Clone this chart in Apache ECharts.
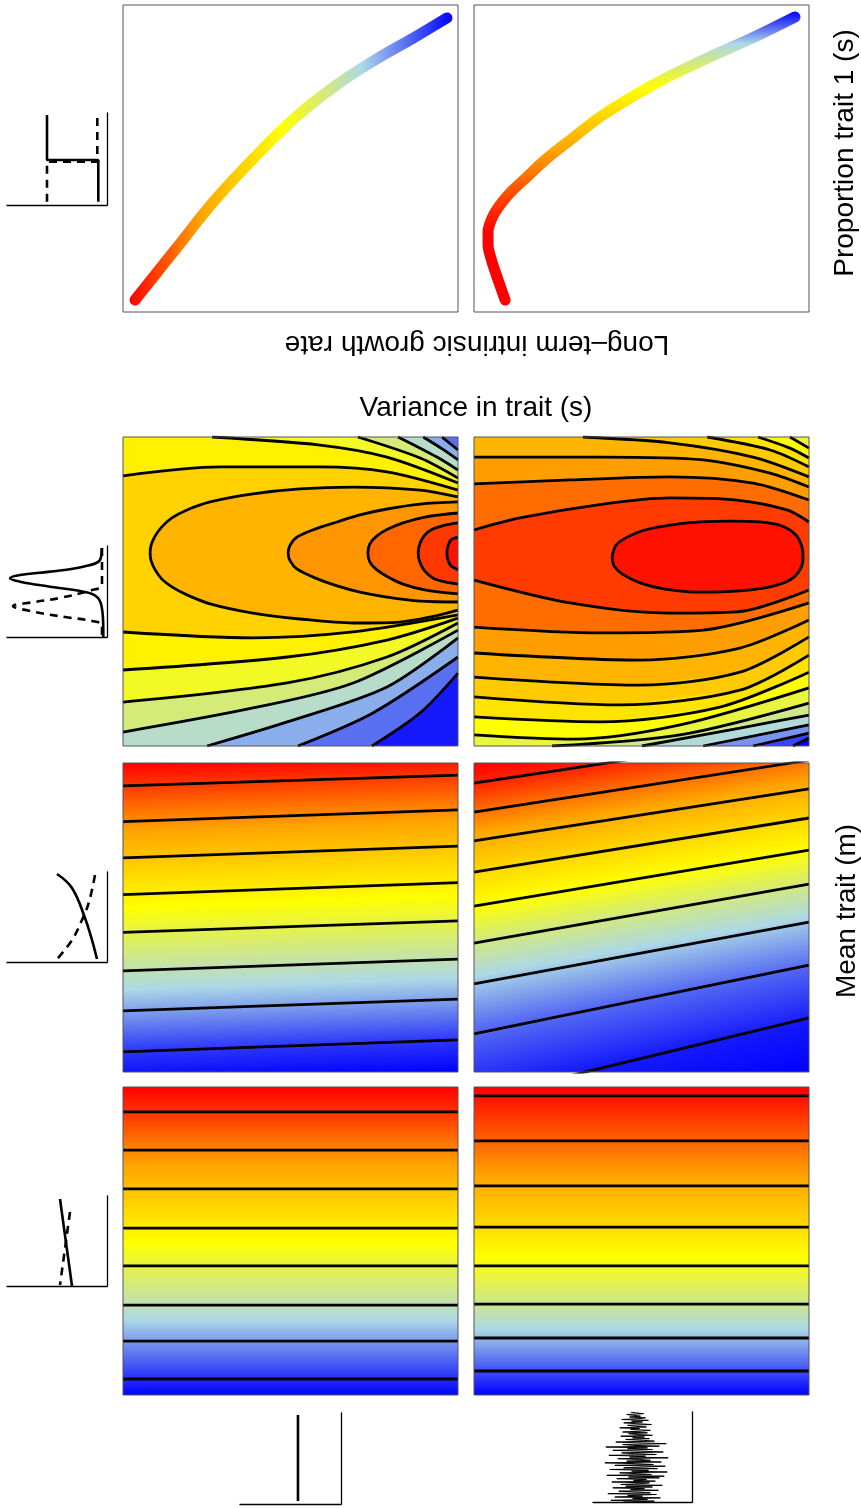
<!DOCTYPE html>
<html>
<head>
<meta charset="utf-8">
<title>Long-term growth rate panels</title>
<script src="https://cdn.jsdelivr.net/npm/echarts@6/dist/echarts.min.js"></script>
<style>
  html, body { margin: 0; padding: 0; background: #fff; }
  #main { width: 861px; height: 1508px; }
</style>
</head>
<body>
<div id="main"></div>
<script>
// colour ramp used by every panel, low value -> high value
var rampColors = ['#0000FF', '#ADD8E6', '#FFFF00', '#FFA500', '#FF0000'];

// ---- row 1: growth rate against proportion of trait 1 (panel units 0-100) ----
var growthA = [[3.6,3.9],[15.5,20.2],[27.5,36.5],[39.4,50.5],[51.3,63.2],[63.3,73.6],[75.2,82.1],[87.2,89.6],[96.7,95.8]];
var growthB = [[9.3,3.9],[7.2,10.4],[5.4,16.3],[4.2,21.8],[4.2,26.1],[5.4,30.6],[7.8,34.9],[11.3,39.4],[15.8,44.0],[21.2,49.5],[28.7,56.0],[37.6,63.5],[48.1,70.7],[58.5,76.9],[70.4,83.1],[82.4,88.9],[95.8,96.1]];

// ---- row 2 left: contours of growth rate over mean / variance ----
var ovalsA = [ // outer -> inner, closed against the right edge
  [[100,80.6],[88.7,82.8],[68.7,83.8],[52.8,83.2],[38.8,81.6],[26.0,79.0],[19.1,76.4],[14.6,73.8],[11.6,70.9],[9.6,68.0],[8.4,65.0],[8.1,62.5],[8.4,59.9],[9.6,57.0],[11.6,54.0],[14.6,51.5],[19.1,48.9],[26.0,46.0],[38.8,43.0],[52.8,41.1],[68.7,39.8],[82.7,40.1],[91.6,41.7],[100,44.0]],
  [[100,79.0],[88.7,78.3],[78.8,76.7],[70.7,74.8],[63.9,72.5],[57.3,70.2],[51.9,67.6],[49.9,65.0],[49.3,62.5],[49.9,59.9],[51.9,57.3],[57.3,54.4],[63.9,51.8],[70.7,49.8],[78.8,48.2],[88.7,46.9],[100,46.6]],
  [[100,75.4],[90.1,74.1],[83.6,72.2],[79.1,70.2],[75.8,68.0],[73.7,65.4],[73.1,62.5],[73.7,59.5],[75.8,57.0],[79.1,54.7],[83.6,52.4],[90.1,50.5],[100,49.2]],
  [[100,72.2],[96.1,71.5],[92.5,70.2],[90.1,68.3],[88.7,65.7],[88.1,62.5],[88.7,59.2],[90.1,56.6],[92.5,54.4],[96.1,53.1],[100,52.4]],
  [[100,67.6],[97.9,66.7],[97.0,64.7],[96.7,62.5],[97.0,60.2],[97.9,58.3],[100,57.0]]
];
var upperA = [ // inner -> outer
  [[0,87.4],[29.0,90.3],[58.8,90.3],[78.8,88.7],[100,82.8]],
  [[26.6,100],[58.8,97.4],[78.8,93.5],[100,85.1]],
  [[70.1,100],[88.7,93.2],[100,86.7]],
  [[82.1,100],[93.7,93.5],[100,89.3]],
  [[89.6,100],[95.5,96.0],[100,92.6]],
  [[95.2,100],[100,95.8]]
];
var lowerA = [ // inner -> outer
  [[0,36.9],[38.8,35.0],[68.7,36.9],[100,42.4]],
  [[0,24.6],[49.0,28.8],[78.8,34.3],[100,41.4]],
  [[0,14.2],[49.0,20.4],[78.8,28.8],[100,39.8]],
  [[0,4.5],[38.8,12.3],[68.7,20.4],[100,37.5]],
  [[25.1,0],[49.0,7.8],[78.8,19.1],[100,35.0]],
  [[52.2,0],[74.6,10.7],[100,28.8]],
  [[74.3,0],[88.7,10.7],[100,23.6]]
];
// band colours, painted low -> high: base, >M, >F/L, >E/K, >D/J, >C/I, >B/H, >A/G, ovals
var bandValA = [0.03, 0.13, 0.20, 0.28, 0.37, 0.46, 0.54, 0.625, 0.705, 0.775, 0.845, 0.915, 0.975];

// ---- row 2 right ----
var ovalB = [[41.2,61.2],[42.4,65.0],[45.7,67.6],[51.0,69.9],[58.5,71.5],[67.5,72.5],[76.4,72.8],[85.4,72.5],[91.9,71.2],[96.1,68.3],[97.9,64.4],[98.2,60.8],[97.3,57.0],[94.3,53.7],[88.4,51.5],[79.4,50.2],[67.5,49.8],[57.0,50.8],[49.6,52.8],[44.2,55.7],[41.8,58.3],[41.2,61.2]];
var upperB = [
  [[0,69.9],[13.7,73.8],[38.5,78.3],[58.5,80.3],[78.5,79.6],[93.4,76.4],[100,72.5]],
  [[0,84.8],[28.7,86.1],[58.5,87.1],[83.3,85.1],[100,79.6]],
  [[0,93.5],[38.5,93.5],[68.4,92.6],[88.4,88.3],[100,83.8]],
  [[32.5,100],[58.5,98.1],[83.3,93.5],[100,87.1]],
  [[69.6,100],[88.4,95.8],[100,90.3]],
  [[84.8,100],[94.3,96.4],[100,93.2]],
  [[94.3,100],[100,96.4]]
];
var lowerB = [
  [[0,53.7],[28.7,46.3],[58.5,43.0],[78.5,43.4],[100,50.5]],
  [[0,38.5],[38.5,36.6],[68.4,37.5],[100,46.3]],
  [[0,30.1],[49.6,27.8],[79.4,31.7],[100,40.8]],
  [[0,22.3],[49.6,19.7],[79.4,23.9],[100,35.3]],
  [[0,15.9],[43.6,13.3],[79.4,18.1],[100,29.4]],
  [[0,9.4],[37.6,7.8],[73.4,12.6],[100,23.9]],
  [[0,3.6],[30.0,2.2],[61.5,6.8],[100,18.8]],
  [[23.3,0],[61.5,3.6],[100,13.9]],
  [[50.1,0],[79.4,5.8],[100,10.0]],
  [[68.4,0],[100,6.8]],
  [[83.3,0],[100,4.2]],
  [[95.2,0],[100,2.6]]
];
var bandValB = [0.0, 0.08, 0.17, 0.265, 0.35, 0.43, 0.50, 0.575, 0.645, 0.705, 0.76, 0.835, 0.91, 0.975];

// ---- row 3: straight contours, height at left edge / right edge, and level ----
// first and last entries are the panel edges (not drawn)
var r3aLeft  = [100, 92.6, 81.0, 69.3, 57.4, 45.2, 32.7, 19.8, 6.5, -3.9];
var r3aRight = [103.5, 96.1, 84.8, 73.1, 61.3, 48.9, 36.5, 23.6, 10.4, 0];
var r3aLevel = [1.0, 0.917, 0.787, 0.664, 0.541, 0.424, 0.307, 0.187, 0.062, 0.0];
var r3bLeft  = [100, 93.5, 84.1, 74.8, 64.7, 53.7, 41.7, 28.5, 12.3, -8.7, -26.2];
var r3bRight = [116.4, 109.9, 100.9, 91.6, 82.2, 71.8, 60.8, 48.5, 34.6, 17.5, 0];
var r3bLevel = [1.0, 0.95, 0.83, 0.72, 0.61, 0.50, 0.36, 0.23, 0.12, 0.03, 0.0];

// ---- row 4: flat contours ----
var r4aAt    = [100, 91.9, 79.5, 66.9, 54.2, 41.9, 29.2, 17.5, 5.2, 0];
var r4aLevel = [1.0, 0.922, 0.798, 0.674, 0.55, 0.426, 0.302, 0.178, 0.054, 0.0];
var r4bAt    = [100, 97.1, 82.5, 67.9, 54.5, 41.9, 29.5, 18.5, 7.8, 0];
var r4bLevel = [1.0, 0.977, 0.850, 0.724, 0.597, 0.470, 0.344, 0.217, 0.090, 0.0];

// ---- small environment sketches ----
var sk1Solid  = [[40,97.8],[40,48.9],[91.3,48.9],[91.3,3.6]];
var sk1Dash   = [[90.3,94.6],[90.3,47.1],[40,47.1],[40,0]];
var sk2Solid  = [[94.7,97.4],[93,84.6],[76.3,77.3],[43,71.8],[13,68.1],[3,64.5],[13,60.8],[43,55.3],[76.3,49.8],[89.7,44.3],[94.7,33.3],[96.3,7.7],[96.3,0]];
var sk2Dash   = [[95,97.8],[95,57.1],[85,51.6],[53,42.9],[28,38.5],[6,34.1],[28,27.5],[58,22],[85,17.6],[95,13.2],[95,0]];
var sk3Solid  = [[50,97.8],[65,82.2],[78,48.9],[85,24.4],[90,3.3]];
var sk3Dash   = [[51,4.4],[65,24.4],[75,46.7],[82,66.7],[88,96.7]];
var sk4Solid  = [[53,96.7],[65,0]];
var sk4Dash   = [[63,82.2],[53,1.1]];
var sk5Solid  = [[57.4,97.8],[57.4,3.3]];
var sk6Noise  = [30,62,18,55,40,68,22,50,35,64,15,58,44,26,66,38,52,20,60,33,70,28,48,57,19,63,41,54,24,67,
  36,72,14,59,45,27,75,39,56,17,65,31,50,73,22,61,43,12,69,34,58,47,25,76,37,53,16,64,42,29,71,48,20,60,35,55,13,67,40,30,74,45,23,62,51,
  33,57,40,52,28,60,45,36,55,30,49,58,38,47,27,54,42,35,59,44,31,50,39,56,29,46,53,37,48,41,34,51,43,38];

// ---------------------------------------------------------------
var rampRgb = rampColors.map(function (h) {
  return [parseInt(h.substr(1, 2), 16), parseInt(h.substr(3, 2), 16), parseInt(h.substr(5, 2), 16)];
});
function ramp(v) {
  v = Math.max(0, Math.min(1, v));
  var p = v * (rampRgb.length - 1);
  var i = Math.min(Math.floor(p), rampRgb.length - 2), f = p - i;
  var a = rampRgb[i], b = rampRgb[i + 1];
  return 'rgb(' + Math.round(a[0] + (b[0] - a[0]) * f) + ',' + Math.round(a[1] + (b[1] - a[1]) * f) + ',' + Math.round(a[2] + (b[2] - a[2]) * f) + ')';
}
// gradient stops from v0 to v1, keeping the ramp's knots inside the band
function bandStops(v0, v1) {
  var stops = [{ offset: 0, color: ramp(v0) }, { offset: 1, color: ramp(v1) }];
  for (var k = 1; k < rampColors.length - 1; k++) {
    var kv = k / (rampColors.length - 1);
    if ((kv - v0) * (kv - v1) < 0) stops.push({ offset: (kv - v0) / (v1 - v0), color: ramp(kv) });
  }
  stops.sort(function (a, b) { return a.offset - b.offset; });
  return stops;
}
// polygon between an upper and a lower contour; both end on the right edge
function between(upper, lower) {
  var up = upper || [[100, 100]];
  var pts = up.concat(lower.slice().reverse());
  var ds = lower[0], us = up[0];
  if (ds[1] <= 0 && ds[0] > 0) pts.push([0, 0]);
  if (us[1] >= 100 && us[0] > 0) pts.push([0, 100]);
  return pts;
}
var fullPanel = [[0, 0], [100, 0], [100, 100], [0, 100]];

var series = [];
function contour(gi, pts, smooth) {
  series.push({
    type: 'line', xAxisIndex: gi, yAxisIndex: gi, data: pts, symbol: 'none', smooth: smooth,
    silent: true, z: 5, lineStyle: { color: '#000', width: 2.8 }
  });
}
function flatRegions(gi, regions, values) {
  series.push({
    type: 'custom', xAxisIndex: gi, yAxisIndex: gi, clip: true, silent: true, z: 1,
    data: values.map(function (v, i) { return [i, v]; }),
    renderItem: function (params, api) {
      var pts = regions[api.value(0)].map(function (p) { return api.coord(p); });
      var col = ramp(api.value(1));
      return { type: 'polygon', shape: { points: pts }, style: { fill: col, stroke: col, lineWidth: 0.6 } };
    }
  });
}
function gradientBands(gi, atLeft, atRight, level) {
  var data = [];
  for (var i = 0; i < level.length - 1; i++) {
    data.push([atLeft[i], atRight[i], atLeft[i + 1], atRight[i + 1], level[i], level[i + 1]]);
  }
  series.push({
    type: 'custom', xAxisIndex: gi, yAxisIndex: gi, clip: true, silent: true, z: 1, data: data,
    renderItem: function (params, api) {
      var a = api.coord([0, api.value(0)]), b = api.coord([100, api.value(1)]);
      var d = api.coord([0, api.value(2)]), c = api.coord([100, api.value(3)]);
      var m = [(a[0] + b[0]) / 2, (a[1] + b[1]) / 2];
      var ux = b[0] - a[0], uy = b[1] - a[1], ul = Math.sqrt(ux * ux + uy * uy);
      var n = [-uy / ul, ux / ul];
      var ex = c[0] - d[0], ey = c[1] - d[1];
      var t = -((m[0] - d[0]) * ey - (m[1] - d[1]) * ex) / (n[0] * ey - n[1] * ex);
      var e = [m[0] + t * n[0], m[1] + t * n[1]];
      return {
        type: 'polygon', shape: { points: [a, b, c, d] },
        style: { fill: new echarts.graphic.LinearGradient(m[0], m[1], e[0], e[1], bandStops(api.value(4), api.value(5)), true) }
      };
    }
  });
  for (var j = 1; j < level.length - 1; j++) contour(gi, [[0, atLeft[j]], [100, atRight[j]]], false);
}
function sketch(gi, pts, dashed, smooth) {
  series.push({
    type: 'line', xAxisIndex: gi, yAxisIndex: gi, data: pts, symbol: 'none', smooth: smooth || false,
    silent: true, lineStyle: { color: '#000', width: 2.6, type: dashed ? [8, 6] : 'solid' }
  });
}

// ---- grids ----
var panelBox = { show: true, borderColor: '#555', borderWidth: 1, backgroundColor: 'rgba(0,0,0,0)', z: 10 };
var grids = [
  [123, 5, 335, 307], [474, 5, 335, 307],
  [123, 437, 335, 309], [474, 437, 335, 309],
  [123, 763, 335, 309], [474, 763, 335, 309],
  [123, 1087, 335, 308], [474, 1087, 335, 308],
  [7, 113, 100, 92], [7, 546, 100, 91], [7, 872, 100, 90], [7, 1196, 100, 90],
  [240, 1413, 101, 91], [593, 1412, 99, 90]
].map(function (g, i) {
  var o = { left: g[0], top: g[1], width: g[2], height: g[3] };
  if (i < 8) for (var k in panelBox) o[k] = panelBox[k];
  return o;
});
var xAxes = [], yAxes = [];
var sketchLine = { show: true, onZero: false, lineStyle: { color: '#000', width: 1.3 } };
grids.forEach(function (g, i) {
  if (i < 8) {
    xAxes.push({ type: 'value', gridIndex: i, min: 0, max: 100, show: false });
    yAxes.push({ type: 'value', gridIndex: i, min: 0, max: 100, show: false });
  } else {
    var base = { gridIndex: i, axisLine: sketchLine, axisTick: { show: false }, axisLabel: { show: false }, splitLine: { show: false } };
    xAxes.push(Object.assign({ type: 'value', min: 0, max: 100, position: 'bottom' }, base));
    if (i === 13) {
      yAxes.push(Object.assign({ type: 'category', position: 'right', boundaryGap: false, data: sk6Noise.map(function (v, k) { return k; }) }, base));
    } else {
      yAxes.push(Object.assign({ type: 'value', min: 0, max: 100, position: 'right' }, base));
    }
  }
});

// row 1
series.push({
  type: 'line', xAxisIndex: 0, yAxisIndex: 0, data: growthA, symbol: 'none', smooth: 0.4, silent: true,
  lineStyle: { width: 11, cap: 'round', join: 'round',
    color: new echarts.graphic.LinearGradient(0, 0, 1, 0, [
      { offset: 0, color: '#FF0000' }, { offset: 0.22, color: '#FFA500' }, { offset: 0.47, color: '#FFFF00' },
      { offset: 0.72, color: '#ADD8E6' }, { offset: 1, color: '#0000FF' }]) }
});
series.push({
  type: 'line', xAxisIndex: 1, yAxisIndex: 1, data: growthB, symbol: 'none', smooth: 0.3, silent: true,
  lineStyle: { width: 11, cap: 'round', join: 'round',
    color: new echarts.graphic.LinearGradient(0, 1, 0, 0, [
      { offset: 0, color: '#FF0000' }, { offset: 0.25, color: '#FF0000' }, { offset: 0.53, color: '#FFA500' },
      { offset: 0.74, color: '#FFFF00' }, { offset: 0.89, color: '#ADD8E6' }, { offset: 1, color: '#0000FF' }]) }
});

// row 2 left
var regionsA = [fullPanel, between(null, lowerA[6])];
for (var q = 5; q >= 0; q--) regionsA.push(between(upperA[q], lowerA[q]));
regionsA = regionsA.concat(ovalsA);
flatRegions(2, regionsA, bandValA);
ovalsA.concat(upperA, lowerA).forEach(function (l) { contour(2, l, 0.3); });

// row 2 right
var regionsB = [fullPanel];
for (var r = 11; r >= 7; r--) regionsB.push(between(null, lowerB[r]));
for (var s = 6; s >= 0; s--) regionsB.push(between(upperB[s], lowerB[s]));
regionsB.push(ovalB);
flatRegions(3, regionsB, bandValB);
[ovalB].concat(upperB, lowerB).forEach(function (l) { contour(3, l, 0.3); });

// rows 3 and 4
gradientBands(4, r3aLeft, r3aRight, r3aLevel);
gradientBands(5, r3bLeft, r3bRight, r3bLevel);
gradientBands(6, r4aAt, r4aAt, r4aLevel);
gradientBands(7, r4bAt, r4bAt, r4bLevel);

// sketches
sketch(8, sk1Solid, false); sketch(8, sk1Dash, true);
sketch(9, sk2Solid, false, 0.4); sketch(9, sk2Dash, true, 0.4);
sketch(10, sk3Solid, false, 0.4); sketch(10, sk3Dash, true, 0.4);
sketch(11, sk4Solid, false); sketch(11, sk4Dash, true);
sketch(12, sk5Solid, false);
series.push({ type: 'line', xAxisIndex: 13, yAxisIndex: 13, data: sk6Noise, symbol: 'none', silent: true,
  lineStyle: { color: '#000', width: 1 } });

var font = '"Liberation Sans", Arial, sans-serif';
function label(text, x, y, rot) {
  return { type: 'text', x: x, y: y, rotation: rot, silent: true,
    style: { text: text, fontSize: 28, fontFamily: font, fill: '#000', align: 'center', verticalAlign: 'middle' } };
}

var chart = echarts.init(document.getElementById('main'));
chart.setOption({
  backgroundColor: '#fff',
  animation: false,
  grid: grids,
  xAxis: xAxes,
  yAxis: yAxes,
  series: series,
  graphic: { elements: [
    label('Proportion trait 1 (s)', 845, 153, Math.PI / 2),
    label('Long\u2013term intrinsic growth rate', 477, 344, Math.PI),
    label('Variance in trait (s)', 476, 408, 0),
    label('Mean trait (m)', 847, 911, Math.PI / 2)
  ] }
});
</script>
</body>
</html>
